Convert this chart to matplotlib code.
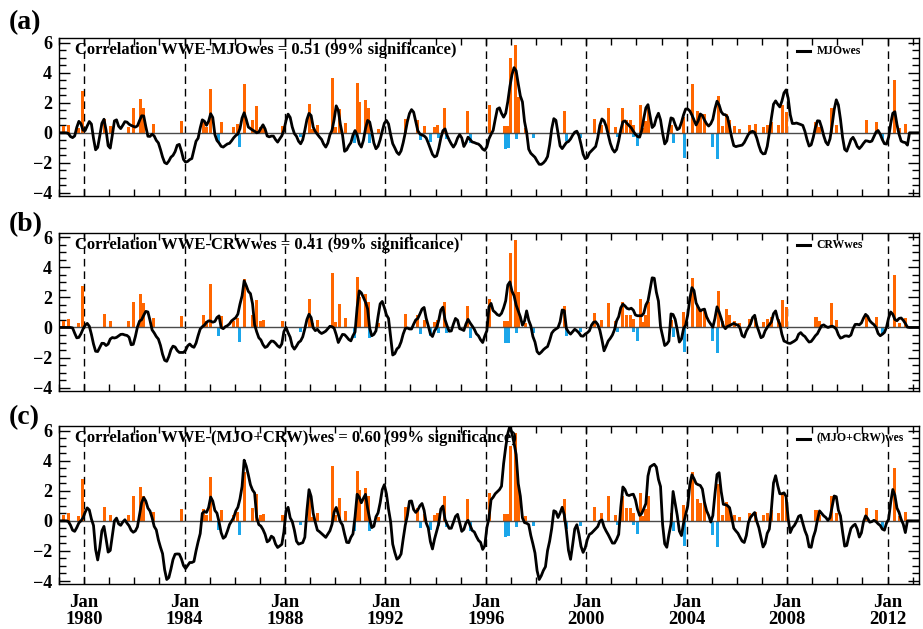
import numpy as np
import matplotlib
matplotlib.use('Agg')
import matplotlib.pyplot as plt

# WWE index, shared by the three panels (bar centre in decimal years, value)
wwe_pos_time = [1979.18, 1979.36, 1979.77, 1979.92, 1980.81, 1981.05, 1981.78, 1981.95,
                1982.25, 1982.37, 1982.75, 1983.88, 1984.76, 1984.87, 1985.03, 1985.48,
                1985.96, 1986.10, 1986.37, 1986.70, 1986.88, 1987.03, 1987.15, 1987.89,
                1988.98, 1989.10, 1989.29, 1989.90, 1990.01, 1990.16, 1990.43, 1990.87,
                1990.98, 1991.19, 1991.32, 1991.73, 1992.82, 1993.26, 1993.56, 1993.95,
                1994.07, 1994.34, 1995.26, 1996.16, 1996.75, 1996.87, 1996.99, 1997.17,
                1997.30, 1997.58, 1999.14, 2000.34, 2000.60, 2000.90, 2001.15, 2001.46,
                2001.59, 2001.78, 2001.88, 2002.15, 2002.27, 2002.36, 2002.46, 2003.41,
                2003.89, 2004.25, 2004.43, 2004.55, 2004.72, 2005.25, 2005.44, 2005.58,
                2005.72, 2005.90, 2006.10, 2006.51, 2006.73, 2007.06, 2007.22, 2007.36,
                2007.66, 2007.83, 2007.96, 2009.15, 2009.27, 2009.76, 2009.98, 2011.15,
                2011.55, 2012.27, 2012.48, 2012.72]
wwe_pos_val = [0.42, 0.55, 0.33, 2.75, 0.92, 0.42, 0.40, 1.66,
               2.22, 1.62, 0.60, 0.76, 0.80, 0.40, 2.88, 0.75,
               0.40, 0.60, 3.22, 0.86, 1.80, 0.40, 0.48, 0.42,
               1.90, 0.27, 0.52, 3.65, 0.38, 1.55, 0.65, 3.34,
               2.05, 2.21, 1.68, 0.28, 0.90, 0.84, 0.47, 0.38,
               0.50, 1.66, 1.42, 1.86, 0.44, 0.44, 4.96, 5.82,
               2.37, 0.33, 1.44, 0.93, 0.50, 1.62, 0.40, 1.66,
               0.82, 0.82, 0.55, 1.88, 0.35, 0.80, 1.66, 0.50,
               1.06, 3.26, 1.45, 1.20, 1.24, 2.44, 0.42, 1.24,
               0.85, 0.42, 0.27, 0.55, 0.60, 0.38, 0.55, 0.70,
               0.55, 1.82, 1.38, 0.72, 0.40, 1.62, 0.50, 0.83,
               0.71, 3.50, 0.32, 0.60]
wwe_neg_time = [1985.37, 1986.20, 1988.62, 1990.76, 1991.36, 1993.38, 1993.80, 1994.10,
                1994.42, 1995.38, 1996.77, 1996.90, 1997.24, 1997.88, 1999.22, 1999.77,
                2001.26, 2001.90, 2002.06, 2003.47, 2003.93, 2005.01, 2005.22, 2011.81]
wwe_neg_val = [-0.58, -0.95, -0.28, -0.68, -0.68, -0.45, -0.60, -0.35,
               -0.38, -0.68, -1.05, -1.03, -0.40, -0.34, -0.55, -0.32,
               -0.31, -0.29, -0.90, -0.66, -1.66, -0.92, -1.72, -0.51]

# monthly indices, one row per year from Jan 1979 (last row: early 2013)
mjo_wes = [
    [0, 0, 0, 0, -0.05, -0.25, -0.32, -0.21, 0.36, 0.76, 0.60, 0.17],
    [0.15, 0.46, 0.75, 0.58, -0.37, -1.13, -0.97, -0.20, 0.63, 0.90, 0.18, -0.86],
    [-1.02, -0.15, 0.79, 0.86, 0.44, 0.28, 0.50, 0.74, 0.71, 0.57, 0.49, 0.43],
    [0.38, 0.46, 0.81, 1.13, 1.12, 0.41, -0.23, -0.24, -0.09, -0.21, -0.50, -0.67],
    [-1.11, -1.61, -1.98, -2.06, -1.88, -1.62, -1.50, -1.25, -0.83, -0.77, -1.21, -1.77],
    [-1.95, -1.90, -1.78, -1.71, -1.15, -0.56, -0.36, 0.32, 0.86, 0.77, 0.50, 0.77],
    [1.27, 1.02, -0.11, -0.51, -0.68, -0.90, -0.95, -0.84, -0.74, -0.70, -0.53, -0.33],
    [-0.18, -0.08, 0.28, 0.98, 1.33, 0.89, 0.38, 0.28, 0.18, 0.10, 0.00, 0.05],
    [0.30, 0.53, 0.26, -0.21, -0.27, -0.22, -0.22, -0.45, -0.62, -0.40, -0.20, 0.17],
    [0.81, 1.24, 1.02, 0.38, -0.05, -0.23, -0.56, -0.73, -0.46, 0.17, 0.88, 1.29],
    [1.15, 0.38, 0.08, -0.10, -0.28, -0.44, -0.75, -0.95, -0.68, -0.13, 0.17, 0.88],
    [1.79, 1.49, 0.54, -0.13, -1.23, -1.13, -0.86, -0.66, -0.16, 0.15, -0.15, -0.73],
    [-0.95, -0.50, 0.28, 0.82, 0.72, 0.05, -0.68, -1.06, -0.89, -0.46, 0.11, 0.63],
    [0.82, 0.59, -0.12, -0.72, -1.00, -1.30, -1.44, -1.20, -0.66, 0.00, 0.74, 1.28],
    [1.54, 1.37, 0.74, 0.14, -0.08, -0.15, -0.20, -0.34, -0.68, -1.06, -1.43, -1.60],
    [-1.53, -1.03, -0.35, 0.14, 0.26, -0.18, -0.48, -0.74, -0.95, -0.73, -0.35, -0.12],
    [-0.34, -0.91, -0.66, -0.29, -0.45, -0.61, -0.65, -0.71, -0.75, -0.88, -1.08, -1.17],
    [-0.93, -0.40, -0.10, 0.16, 0.90, 1.58, 1.66, 1.29, 1.04, 1.30, 2.07, 3.07],
    [3.86, 4.33, 4.12, 3.25, 2.45, 2.05, 0.75, 0.05, -1.09, -1.36, -1.50, -1.63],
    [-1.88, -2.09, -2.10, -2.00, -1.84, -1.58, -0.79, 0.27, 0.94, 0.83, -0.03, -0.87],
    [-1.05, -0.85, -0.65, -0.58, -0.41, -0.16, 0.04, 0.11, -0.20, -0.77, -1.42, -1.72],
    [-1.64, -1.34, -1.20, -1.05, -0.91, -0.33, 0.50, 0.92, 0.80, 0.44, -0.12, -0.70],
    [-1.08, -1.28, -1.11, -0.54, 0.20, 0.73, 0.79, 0.62, 0.48, 0.33, 0.10, -0.10],
    [-0.25, -0.29, 0.16, 0.97, 1.66, 1.87, 1.09, 0.35, 0.49, 0.99, 1.30, 0.86],
    [-0.03, -0.74, -0.54, 0.29, 0.99, 0.93, 0.54, 0.21, 0.30, 0.69, 1.19, 1.58],
    [1.58, 1.45, 1.18, 0.85, 0.52, 0.80, 1.25, 1.15, 0.85, 0.60, 0.45, 0.60],
    [0.90, 1.60, 2.10, 1.85, 1.40, 1.22, 1.20, 1.05, 0.40, -0.30, -0.85, -0.92],
    [-0.88, -0.85, -0.82, -0.65, -0.38, -0.10, 0.05, 0.10, 0.02, -0.35, -0.85, -1.25],
    [-1.40, -1.38, -0.90, 0.00, 1.00, 1.90, 2.12, 1.90, 1.72, 2.10, 2.65, 2.85],
    [2.30, 1.20, 0.62, 0.62, 0.65, 0.60, 0.55, 0.49, 0.10, -0.45, -0.88, -0.80],
    [-0.30, 0.35, 0.80, 0.78, 0.35, -0.20, -0.62, -0.80, -0.40, 0.50, 1.55, 2.19],
    [1.85, 0.90, -0.30, -1.10, -1.22, -0.85, -0.45, -0.30, -0.55, -0.90, -1.05, -0.90],
    [-0.70, -0.53, -0.55, -0.60, -0.55, -0.25, 0.05, 0.15, -0.10, -0.45, -0.72, -0.75],
    [-0.30, 0.60, 1.30, 1.40, 0.55, -0.10, -0.55, -0.62, -0.65, -0.82, 0.00, 0.00],
    [0, 0, 0, 0],
]

crw_wes = [
    [0, 0, 0, 0, 0, 0, -0.03, -0.38, -0.69, -0.66, -0.42, -0.10],
    [0.15, 0.27, 0.08, -0.46, -1.10, -1.58, -1.60, -1.33, -1.05, -1.06, -1.20, -1.10],
    [-0.77, -0.67, -0.70, -0.66, -0.56, -0.46, -0.45, -0.50, -0.53, -0.65, -1.15, -1.12],
    [-0.61, 0.03, 0.42, 0.52, 0.81, 1.07, 1.03, 0.47, -0.16, -0.36, -0.60, -0.77],
    [-1.19, -1.78, -2.18, -2.25, -1.93, -1.48, -1.24, -1.30, -1.53, -1.66, -1.66, -1.66],
    [-1.52, -1.22, -1.10, -1.25, -1.32, -1.04, -0.54, -0.10, 0.05, 0.16, 0.34, 0.44],
    [0.42, 0.35, 0.40, 0.66, 0.77, 0.00, -0.08, 0.05, 0.12, 0.24, 0.44, 0.55],
    [0.66, 0.89, 1.55, 2.10, 3.10, 2.78, 2.40, 2.25, 1.58, 0.18, -0.29, -0.68],
    [-0.83, -1.14, -1.33, -1.26, -1.06, -0.90, -0.92, -1.05, -1.22, -1.32, -1.09, -0.27],
    [0.00, -0.35, -0.65, -1.23, -1.44, -1.24, -1.00, -0.89, -0.62, -0.09, 0.53, 0.88],
    [0.66, -0.02, -0.21, -0.12, -0.30, -0.40, -0.33, -0.24, -0.08, 0.08, 0.05, -0.05],
    [-0.48, -1.00, -0.72, -0.46, -0.48, -0.63, -0.80, -0.89, -0.55, -0.30, 1.33, 2.43],
    [2.30, 2.00, 1.68, 1.24, -0.05, -0.55, -0.46, -0.22, 0.73, 1.57, 1.73, 1.32],
    [0.84, 0.60, -0.61, -1.83, -1.74, -1.43, -1.30, -0.96, -0.44, -0.07, -0.03, -0.10],
    [-0.10, 0.22, 0.50, 0.60, 0.90, 1.22, 1.33, 0.61, 0.11, -0.43, -0.60, -0.22],
    [0.00, 0.48, 1.16, 1.35, 0.52, 0.10, -0.25, -0.23, 0.22, 0.60, 0.48, -0.08],
    [-0.13, -0.20, 0.23, 0.54, 0.30, 0.10, -0.12, -0.42, -0.56, -0.82, -1.00, -0.57],
    [-0.22, 1.37, 1.60, 1.12, 1.00, 0.85, 0.79, 0.94, 1.30, 1.77, 2.82, 3.03],
    [2.41, 2.11, 1.48, 1.10, 0.71, 0.15, 0.43, 1.10, 0.48, 0.11, -0.60, -0.97],
    [-1.60, -1.76, -1.64, -1.48, -1.36, -1.27, -0.87, -0.38, -0.20, -0.10, -0.01, 0.38],
    [1.16, 1.12, -0.07, -0.30, -0.44, -0.28, -0.12, -0.22, -0.36, -0.56, -0.58, -0.44],
    [-0.35, -0.22, 0.15, 0.35, 0.38, 0.20, -0.18, -0.82, -1.55, -1.24, -0.90, -0.72],
    [-0.50, -0.15, 0.44, 0.72, 1.31, 1.55, 1.43, 1.27, 1.22, 1.28, 1.15, 0.83],
    [0.78, 0.78, 0.78, 0.95, 1.50, 1.76, 2.55, 3.30, 3.27, 2.35, 1.75, 0.05],
    [-0.58, -1.20, -1.10, -0.90, 0.90, 0.86, 0.54, -0.16, -0.97, -0.77, -0.08, 0.16],
    [0.84, 1.92, 2.65, 2.45, 1.63, 1.35, 1.10, 1.18, 1.22, 0.72, 0.43, 0.22],
    [0.02, 0.60, 1.37, 1.03, 0.60, 0.10, -0.08, 0.07, 0.13, 0.20, 0.27, 0.20],
    [0.16, -0.05, -0.54, -0.64, -0.25, 0.00, 0.23, 0.66, 0.81, 0.14, -0.27, -0.68],
    [-0.60, -0.22, 0.00, 0.18, 0.37, 0.92, 1.10, 0.55, 0.22, -0.45, -0.90, -0.96],
    [-1.04, -1.06, -0.98, -0.90, -0.79, -0.45, -0.34, -0.50, -0.60, -0.80, -0.97, -0.93],
    [-0.75, -0.55, -0.41, -0.13, 0.12, 0.17, 0.07, 0.00, 0.05, 0.09, 0.02, -0.11],
    [-0.48, -0.71, -0.66, -0.57, -0.56, -0.60, -0.50, -0.08, 0.20, 0.21, 0.18, 0.30],
    [0.62, 0.87, 0.74, 0.45, 0.30, 0.19, 0.00, -0.40, -0.55, -0.45, -0.33, 0.01],
    [0.63, 1.03, 0.88, 0.53, 0.45, 0.60, 0.63, 0.48, 0.27, 0.02, 0.00, 0.00],
    [0, 0, 0, 0],
]

sum_wes = [
    [0, 0, 0, 0, -0.05, -0.29, -0.62, -0.70, -0.45, -0.14, 0.00, 0.20],
    [0.57, 0.86, 0.72, 0.12, -0.31, -1.90, -2.60, -1.80, -0.67, -0.37, -1.20, -2.08],
    [-1.97, -0.98, 0.00, 0.18, -0.20, -0.30, -0.08, 0.07, -0.15, -0.33, -0.63, -0.76],
    [-0.67, -0.40, 0.38, 1.20, 1.55, 1.31, 0.85, 0.65, 0.21, -0.37, -0.60, -1.26],
    [-1.75, -2.18, -3.25, -3.90, -3.77, -3.21, -2.57, -2.22, -2.20, -2.21, -2.52, -2.97],
    [-3.17, -2.97, -2.77, -2.77, -2.70, -2.00, -1.39, -0.85, 0.50, 0.62, 0.56, 0.88],
    [1.58, 1.31, 0.69, 0.51, -0.07, -0.79, -1.16, -1.05, -0.68, -0.25, -0.02, 0.22],
    [0.66, 0.90, 1.46, 2.28, 4.03, 3.63, 3.05, 2.40, 2.05, 1.85, 0.24, -0.25],
    [-0.35, -0.58, -0.90, -1.40, -1.30, -1.02, -1.12, -1.54, -1.77, -1.67, -1.56, -0.73],
    [0.67, 0.90, 0.20, -0.05, -0.62, -1.35, -1.55, -1.50, -1.45, -1.09, 0.68, 2.07],
    [1.62, 0.50, -0.10, -0.62, -0.72, -0.85, -0.97, -1.10, -0.88, -0.66, -0.23, 0.58],
    [0.89, 0.42, -0.06, -0.28, -0.89, -1.43, -1.45, -1.10, -0.87, 0.27, 1.77, 1.57],
    [1.20, 1.50, 1.76, 0.84, 0.12, -0.45, -0.36, 0.27, 0.53, 1.20, 2.07, 2.40],
    [1.80, 0.78, -0.05, -1.55, -2.10, -2.55, -2.45, -2.20, -1.21, -0.30, 0.35, 1.30],
    [1.32, 0.75, 0.56, 0.72, 1.00, 1.15, 0.70, -0.14, -0.48, -1.38, -1.87, -1.21],
    [-0.70, -0.18, 0.78, 0.98, 0.10, -0.23, -0.50, -0.49, -0.11, 0.29, 0.43, -0.15],
    [-0.70, -0.57, -0.14, 0.03, -0.30, -0.64, -0.74, -1.04, -1.30, -1.43, -1.90, -1.66],
    [-0.45, 0.18, 1.40, 1.57, 1.80, 1.93, 2.07, 2.30, 3.80, 4.90, 5.80, 6.30],
    [5.80, 5.15, 4.40, 2.47, 1.64, 0.20, -0.12, -0.16, -0.25, -0.97, -1.53, -2.14],
    [-3.31, -3.90, -3.65, -3.30, -3.05, -1.98, -1.35, -0.50, 0.67, 0.60, 0.22, 0.52],
    [0.90, 0.40, -0.66, -1.96, -2.56, -1.59, -0.54, -0.26, -0.88, -1.70, -2.10, -1.80],
    [-1.25, -0.90, -0.82, -0.68, -0.53, -0.38, -0.02, 0.06, -0.40, -0.68, -0.92, -1.20],
    [-1.48, -1.48, -1.23, -0.90, 0.90, 2.25, 2.08, 1.73, 1.68, 1.74, 1.77, 1.41],
    [0.76, 0.36, 0.49, 0.81, 1.15, 2.98, 3.58, 3.68, 3.76, 3.57, 2.76, 2.28],
    [-0.26, -1.53, -1.76, -0.92, -0.21, 1.95, 1.13, 0.35, -0.68, -0.98, -0.16, 0.42],
    [0.99, 2.41, 3.06, 2.80, 2.48, 2.40, 2.35, 2.11, 1.24, 0.68, 0.36, -0.08],
    [0.35, 1.78, 3.08, 3.20, 1.94, 1.10, 1.07, 1.01, 0.87, 0.22, -0.49, -0.67],
    [-0.83, -1.10, -1.35, -1.44, -0.98, -0.11, 0.23, 0.40, 0.55, -0.04, -0.46, -1.10],
    [-1.74, -1.50, -0.83, -0.55, 0.80, 2.52, 3.00, 2.35, 1.80, 1.80, 1.86, 1.62],
    [0.15, -0.78, -0.46, -0.30, -0.04, 0.30, 0.37, -0.16, -0.65, -1.00, -1.73, -1.76],
    [-1.09, -0.66, 0.07, 0.66, 0.50, 0.33, 0.22, 0.03, 0.21, 0.94, 1.65, 1.60],
    [0.71, 0.33, -0.73, -1.68, -1.64, -1.03, -0.50, -0.33, -0.23, -0.54, -1.08, -0.80],
    [-0.06, 0.33, 0.15, -0.09, -0.05, 0.03, -0.05, -0.20, -0.31, -0.55, -0.62, -0.15],
    [0.10, 1.22, 2.08, 1.70, 0.85, 0.56, 0.10, -0.22, -0.78, 0.00, 0.00, 0.00],
    [0, 0, 0, 0],
]

panel_tags = ['(a)', '(b)', '(c)']
corr_texts = ['Correlation WWE-MJOwes = 0.51 (99% significance)',
              'Correlation WWE-CRWwes = 0.41 (99% significance)',
              'Correlation WWE-(MJO+CRW)wes = 0.60 (99% significance)']
legend_names = ['MJOwes', 'CRWwes', '(MJO+CRW)wes']
series = [mjo_wes, crw_wes, sum_wes]

plt.rcParams['font.family'] = ['Liberation Serif', 'DejaVu Serif']
plt.rcParams['font.weight'] = 'bold'

fig = plt.figure(figsize=(9.23, 6.29), dpi=100)
bottoms = [0.6884, 0.3789, 0.0715]
tag_y = [0.964, 0.643, 0.336]

for i in range(3):
    ax = fig.add_axes([0.0639, bottoms[i], 0.9317, 0.2512])
    vals = np.concatenate([np.array(r, dtype=float) for r in series[i]])
    t = 1979 + (np.arange(len(vals)) + 0.5) / 12.0

    ax.bar(wwe_pos_time, wwe_pos_val, width=0.12, color='#ff6600', linewidth=0, zorder=2)
    ax.bar(wwe_neg_time, wwe_neg_val, width=0.12, color='#1ba6ea', linewidth=0, zorder=2)
    ax.axhline(0, color='#4a4a4a', lw=1.0, zorder=3)
    for yr in range(1980, 2013, 4):
        ax.axvline(yr, color='k', lw=1.0, ls=(0, (5.5, 3.5)), zorder=1)
    ax.plot(t, vals, color='k', lw=2.0, zorder=4)

    ax.set_xlim(1979.0, 2013.25)
    ax.set_ylim(-4.2, 6.3)
    ax.set_yticks([-4, -2, 0, 2, 4, 6])
    ax.set_yticks(np.arange(-4, 6.01, 0.5), minor=True)
    ax.set_xticks(range(1980, 2013, 4))
    ax.set_xticks(range(1979, 2014), minor=True)
    ax.tick_params(axis='y', which='major', direction='in', length=8, width=1.0,
                   left=True, right=True, labelsize=13, pad=5)
    ax.tick_params(axis='y', which='minor', direction='in', length=5, width=1.0,
                   left=True, right=True)
    ax.tick_params(axis='x', which='both', direction='in', length=5, width=1.0,
                   top=True, bottom=True, labelsize=13.5, pad=7)
    if i == 2:
        ax.set_xticklabels(['Jan\n%d' % y for y in range(1980, 2013, 4)], linespacing=1.05)
    else:
        ax.set_xticklabels([])
    for s in ax.spines.values():
        s.set_linewidth(1.0)

    ax.text(0.019, 0.925, corr_texts[i], transform=ax.transAxes, fontsize=12,
            fontweight='bold', va='center', ha='left', zorder=5)
    ax.plot([0.858, 0.873], [0.92, 0.92], color='k', lw=2.2, transform=ax.transAxes,
            zorder=5)
    ax.text(0.881, 0.92, legend_names[i], transform=ax.transAxes, fontsize=8.5,
            fontweight='bold', va='center', ha='left', zorder=5)

    fig.text(0.009, tag_y[i], panel_tags[i], fontsize=20, fontweight='bold',
             va='center', ha='left')

fig.savefig('out.png', dpi=100)
